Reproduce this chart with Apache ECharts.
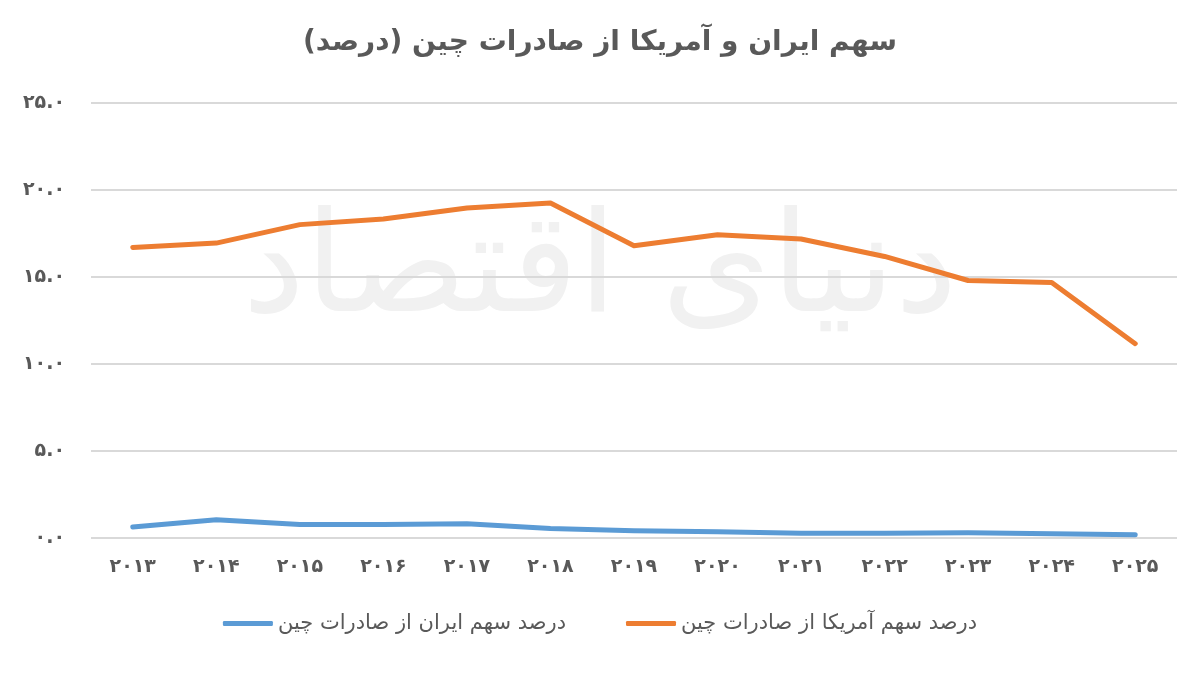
<!DOCTYPE html>
<html>
<head>
<meta charset="utf-8">
<script src="https://cdn.jsdelivr.net/npm/echarts@6/dist/echarts.min.js"></script>
<style>
  html, body { margin: 0; padding: 0; background: #fff; }
  #chart { width: 1200px; height: 675px; }
</style>
</head>
<body>
<div id="chart"></div>
<script>
// داده‌ها
var years = ['2013', '2014', '2015', '2016', '2017', '2018', '2019', '2020', '2021', '2022', '2023', '2024', '2025'];
var iranShare = [0.63, 1.05, 0.77, 0.77, 0.82, 0.55, 0.42, 0.36, 0.28, 0.28, 0.30, 0.24, 0.18];
var usShare = [16.70, 16.95, 18.01, 18.33, 18.97, 19.25, 16.80, 17.43, 17.18, 16.18, 14.80, 14.69, 11.17];
var yTicks = [0, 5, 10, 15, 20, 25];

var FONT = 'DejaVu Sans';
var TEXT = '#595959';

// تبدیل ارقام به فارسی
function fa(s) {
  return String(s).replace(/[0-9]/g, function (d) { return '۰۱۲۳۴۵۶۷۸۹'[+d]; });
}

var chart = echarts.init(document.getElementById('chart'));

var option = {
  backgroundColor: '#fff',
  animation: false,
  title: {
    text: 'سهم ایران و آمریکا از صادرات چین (درصد)',
    left: 'center',
    top: 24,
    textStyle: { fontFamily: FONT, fontSize: 28, fontWeight: 'bold', color: TEXT }
  },
  graphic: [{
    type: 'text',
    left: 'center',
    top: 205,
    silent: true,
    z: 0,
    style: {
      text: 'دنیای اقتصاد',
      font: '140px "DejaVu Sans"',
      fill: '#f1f1f1'
    }
  }],
  legend: {
    bottom: 36,
    left: 'center',
    itemGap: 60,
    itemWidth: 50,
    itemHeight: 5,
    icon: 'roundRect',
    textStyle: { fontFamily: FONT, fontSize: 21, color: TEXT },
    data: ['درصد سهم ایران از صادرات چین', 'درصد سهم آمریکا از صادرات چین']
  },
  grid: { left: 91, right: 23, top: 103, bottom: 137, containLabel: false },
  xAxis: {
    type: 'category',
    data: years,
    boundaryGap: true,
    axisLine: { show: false },
    axisTick: { show: false },
    axisLabel: {
      margin: 20,
      fontFamily: FONT, fontSize: 19, fontWeight: 'bold', color: TEXT,
      formatter: function (v) { return fa(v); }
    }
  },
  yAxis: {
    type: 'value',
    min: yTicks[0],
    max: yTicks[yTicks.length - 1],
    interval: 5,
    axisLine: { show: false },
    axisTick: { show: false },
    splitLine: { lineStyle: { color: '#d9d9d9', width: 2 } },
    axisLabel: {
      margin: 26,
      fontFamily: FONT, fontSize: 19, fontWeight: 'bold', color: TEXT,
      formatter: function (v) { return fa(v.toFixed(1)); }
    }
  },
  series: [{
    name: 'درصد سهم ایران از صادرات چین',
    type: 'line',
    data: iranShare,
    symbol: 'none',
    z: 3,
    lineStyle: { color: '#5B9BD5', width: 5, cap: 'round', join: 'round' },
    itemStyle: { color: '#5B9BD5' }
  }, {
    name: 'درصد سهم آمریکا از صادرات چین',
    type: 'line',
    data: usShare,
    symbol: 'none',
    z: 3,
    lineStyle: { color: '#ED7D31', width: 5, cap: 'round', join: 'round' },
    itemStyle: { color: '#ED7D31' }
  }]
};

chart.setOption(option);
</script>
</body>
</html>
